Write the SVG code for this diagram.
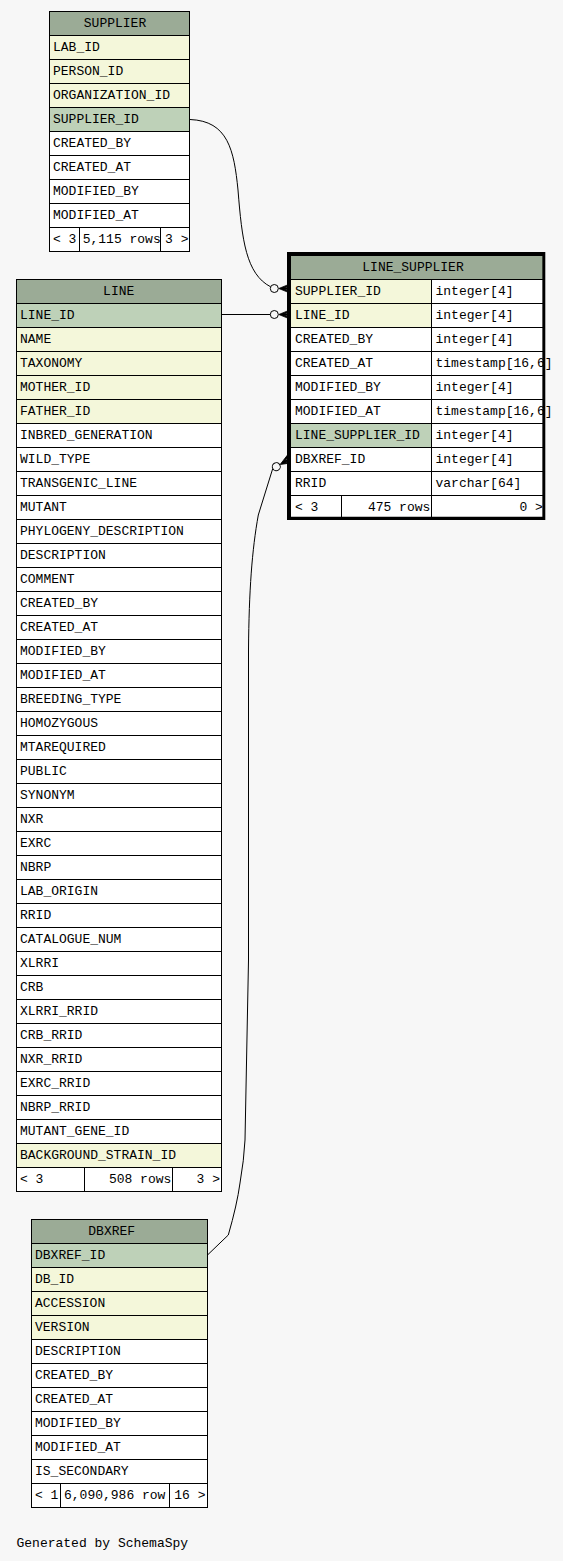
<svg xmlns="http://www.w3.org/2000/svg" xmlns:xlink="http://www.w3.org/1999/xlink" width="563" height="1561" viewBox="0 0 563 1561">
<style>
rect{stroke:#000;stroke-width:1}
.hd{fill:#9bab96}
.pk{fill:#bed1b8}
.fk{fill:#f4f7da}
.w{fill:#ffffff}
text{font-family:"Liberation Mono","DejaVu Sans Mono",monospace;font-size:13px;fill:#000}
.c{text-anchor:middle}
.e{text-anchor:end}
.ln{fill:none;stroke:#000;stroke-width:1}
</style>
<defs>
<g id="co">
<circle cx="0" cy="0" r="4" fill="none" stroke="#000" stroke-width="1"/>
<path d="M4.5,0 L15.8,-4.6 L15.8,-3 L10,-0.8 L15.8,-0.8 L15.8,0.8 L10,0.8 L15.8,3 L15.8,4.6 Z" fill="#000" stroke="#000" stroke-width="0.8"/>
</g>
</defs>
<rect x="0" y="0" width="563" height="1561" fill="#f7f7f7" style="stroke:none"/>

<g id="connectors">
<path class="ln" d="M190,119.5 C228,121 234,150 238,190 C242,240 246,274 270.6,286.8"/>
<use xlink:href="#co" href="#co" transform="translate(274.3,288.5)"/>
<path class="ln" d="M222,314.5 H270.3"/>
<use xlink:href="#co" href="#co" transform="translate(274.3,314.5)"/>
<path class="ln" d="M207.5,1255 L228.3,1235 Q237,1205 240,1183 Q244,1160 245,1140 L248.5,960 L248.5,650 C249,590 252,550 258.3,515 L272.6,469"/>
<use xlink:href="#co" href="#co" transform="translate(276.3,466.7) rotate(-30)"/>
</g>

<g id="SUPPLIER">
<rect class="hd" x="49.5" y="11.5" width="140" height="24"/><text class="c" x="115" y="26.5">SUPPLIER</text>
<rect class="fk" x="49.5" y="35.5" width="140" height="24"/><text x="53" y="51">LAB_ID</text>
<rect class="fk" x="49.5" y="59.5" width="140" height="24"/><text x="53" y="75">PERSON_ID</text>
<rect class="fk" x="49.5" y="83.5" width="140" height="24"/><text x="53" y="99">ORGANIZATION_ID</text>
<rect class="pk" x="49.5" y="107.5" width="140" height="24"/><text x="53" y="123">SUPPLIER_ID</text>
<rect class="w" x="49.5" y="131.5" width="140" height="24"/><text x="53" y="147">CREATED_BY</text>
<rect class="w" x="49.5" y="155.5" width="140" height="24"/><text x="53" y="171">CREATED_AT</text>
<rect class="w" x="49.5" y="179.5" width="140" height="24"/><text x="53" y="195">MODIFIED_BY</text>
<rect class="w" x="49.5" y="203.5" width="140" height="24"/><text x="53" y="219">MODIFIED_AT</text>
<rect class="w" x="49.5" y="227.5" width="30" height="24"/><text x="53" y="243">&lt; 3</text>
<rect class="w" x="79.5" y="227.5" width="81" height="24"/><text x="82.7" y="243">5,115 rows</text>
<rect class="w" x="160.5" y="227.5" width="29" height="24"/><text class="e" x="188.5" y="243">3 &gt;</text>
</g>

<g id="LINE">
<rect class="hd" x="16.5" y="279.5" width="205" height="24"/><text class="c" x="118.7" y="295">LINE</text>
<rect class="pk" x="16.5" y="303.5" width="205" height="24"/><text x="20" y="319">LINE_ID</text>
<rect class="fk" x="16.5" y="327.5" width="205" height="24"/><text x="20" y="343">NAME</text>
<rect class="fk" x="16.5" y="351.5" width="205" height="24"/><text x="20" y="367">TAXONOMY</text>
<rect class="fk" x="16.5" y="375.5" width="205" height="24"/><text x="20" y="391">MOTHER_ID</text>
<rect class="fk" x="16.5" y="399.5" width="205" height="24"/><text x="20" y="415">FATHER_ID</text>
<rect class="w" x="16.5" y="423.5" width="205" height="24"/><text x="20" y="439">INBRED_GENERATION</text>
<rect class="w" x="16.5" y="447.5" width="205" height="24"/><text x="20" y="463">WILD_TYPE</text>
<rect class="w" x="16.5" y="471.5" width="205" height="24"/><text x="20" y="487">TRANSGENIC_LINE</text>
<rect class="w" x="16.5" y="495.5" width="205" height="24"/><text x="20" y="511">MUTANT</text>
<rect class="w" x="16.5" y="519.5" width="205" height="24"/><text x="20" y="535">PHYLOGENY_DESCRIPTION</text>
<rect class="w" x="16.5" y="543.5" width="205" height="24"/><text x="20" y="559">DESCRIPTION</text>
<rect class="w" x="16.5" y="567.5" width="205" height="24"/><text x="20" y="583">COMMENT</text>
<rect class="w" x="16.5" y="591.5" width="205" height="24"/><text x="20" y="607">CREATED_BY</text>
<rect class="w" x="16.5" y="615.5" width="205" height="24"/><text x="20" y="631">CREATED_AT</text>
<rect class="w" x="16.5" y="639.5" width="205" height="24"/><text x="20" y="655">MODIFIED_BY</text>
<rect class="w" x="16.5" y="663.5" width="205" height="24"/><text x="20" y="679">MODIFIED_AT</text>
<rect class="w" x="16.5" y="687.5" width="205" height="24"/><text x="20" y="703">BREEDING_TYPE</text>
<rect class="w" x="16.5" y="711.5" width="205" height="24"/><text x="20" y="727">HOMOZYGOUS</text>
<rect class="w" x="16.5" y="735.5" width="205" height="24"/><text x="20" y="751">MTAREQUIRED</text>
<rect class="w" x="16.5" y="759.5" width="205" height="24"/><text x="20" y="775">PUBLIC</text>
<rect class="w" x="16.5" y="783.5" width="205" height="24"/><text x="20" y="799">SYNONYM</text>
<rect class="w" x="16.5" y="807.5" width="205" height="24"/><text x="20" y="823">NXR</text>
<rect class="w" x="16.5" y="831.5" width="205" height="24"/><text x="20" y="847">EXRC</text>
<rect class="w" x="16.5" y="855.5" width="205" height="24"/><text x="20" y="871">NBRP</text>
<rect class="w" x="16.5" y="879.5" width="205" height="24"/><text x="20" y="895">LAB_ORIGIN</text>
<rect class="w" x="16.5" y="903.5" width="205" height="24"/><text x="20" y="919">RRID</text>
<rect class="w" x="16.5" y="927.5" width="205" height="24"/><text x="20" y="943">CATALOGUE_NUM</text>
<rect class="w" x="16.5" y="951.5" width="205" height="24"/><text x="20" y="967">XLRRI</text>
<rect class="w" x="16.5" y="975.5" width="205" height="24"/><text x="20" y="991">CRB</text>
<rect class="w" x="16.5" y="999.5" width="205" height="24"/><text x="20" y="1015">XLRRI_RRID</text>
<rect class="w" x="16.5" y="1023.5" width="205" height="24"/><text x="20" y="1039">CRB_RRID</text>
<rect class="w" x="16.5" y="1047.5" width="205" height="24"/><text x="20" y="1063">NXR_RRID</text>
<rect class="w" x="16.5" y="1071.5" width="205" height="24"/><text x="20" y="1087">EXRC_RRID</text>
<rect class="w" x="16.5" y="1095.5" width="205" height="24"/><text x="20" y="1111">NBRP_RRID</text>
<rect class="w" x="16.5" y="1119.5" width="205" height="24"/><text x="20" y="1135">MUTANT_GENE_ID</text>
<rect class="fk" x="16.5" y="1143.5" width="205" height="24"/><text x="20" y="1159">BACKGROUND_STRAIN_ID</text>
<rect class="w" x="16.5" y="1167.5" width="68" height="24"/><text x="20" y="1183">&lt; 3</text>
<rect class="w" x="84.5" y="1167.5" width="88" height="24"/><text class="e" x="171.3" y="1183">508 rows</text>
<rect class="w" x="172.5" y="1167.5" width="49" height="24"/><text class="e" x="220" y="1183">3 &gt;</text>
</g>

<g id="DBXREF">
<rect class="hd" x="31.5" y="1219.5" width="176" height="24"/><text class="c" x="111.7" y="1235">DBXREF</text>
<rect class="pk" x="31.5" y="1243.5" width="176" height="24"/><text x="35" y="1259">DBXREF_ID</text>
<rect class="fk" x="31.5" y="1267.5" width="176" height="24"/><text x="35" y="1283">DB_ID</text>
<rect class="fk" x="31.5" y="1291.5" width="176" height="24"/><text x="35" y="1307">ACCESSION</text>
<rect class="fk" x="31.5" y="1315.5" width="176" height="24"/><text x="35" y="1331">VERSION</text>
<rect class="w" x="31.5" y="1339.5" width="176" height="24"/><text x="35" y="1355">DESCRIPTION</text>
<rect class="w" x="31.5" y="1363.5" width="176" height="24"/><text x="35" y="1379">CREATED_BY</text>
<rect class="w" x="31.5" y="1387.5" width="176" height="24"/><text x="35" y="1403">CREATED_AT</text>
<rect class="w" x="31.5" y="1411.5" width="176" height="24"/><text x="35" y="1427">MODIFIED_BY</text>
<rect class="w" x="31.5" y="1435.5" width="176" height="24"/><text x="35" y="1451">MODIFIED_AT</text>
<rect class="w" x="31.5" y="1459.5" width="176" height="24"/><text x="35" y="1475">IS_SECONDARY</text>
<rect class="w" x="31.5" y="1483.5" width="29" height="24"/><text x="35" y="1499">&lt; 1</text>
<rect class="w" x="60.5" y="1483.5" width="109" height="24"/><text x="64" y="1499">6,090,986 row</text>
<rect class="w" x="169.5" y="1483.5" width="38" height="24"/><text class="e" x="205.5" y="1499">16 &gt;</text>
</g>

<g id="LINE_SUPPLIER">
<rect class="hd" x="290.5" y="255.5" width="252.5" height="24"/><text class="c" x="413" y="271">LINE_SUPPLIER</text>
<rect class="fk" x="290.5" y="279.5" width="141" height="24"/><rect class="w" x="431.5" y="279.5" width="111.5" height="24"/>
<text x="295" y="295">SUPPLIER_ID</text><text x="435.5" y="295">integer[4]</text>
<rect class="fk" x="290.5" y="303.5" width="141" height="24"/><rect class="w" x="431.5" y="303.5" width="111.5" height="24"/>
<text x="295" y="319">LINE_ID</text><text x="435.5" y="319">integer[4]</text>
<rect class="w" x="290.5" y="327.5" width="141" height="24"/><rect class="w" x="431.5" y="327.5" width="111.5" height="24"/>
<text x="295" y="343">CREATED_BY</text><text x="435.5" y="343">integer[4]</text>
<rect class="w" x="290.5" y="351.5" width="141" height="24"/><rect class="w" x="431.5" y="351.5" width="111.5" height="24"/>
<text x="295" y="367">CREATED_AT</text><text x="435.5" y="367">timestamp[16,6]</text>
<rect class="w" x="290.5" y="375.5" width="141" height="24"/><rect class="w" x="431.5" y="375.5" width="111.5" height="24"/>
<text x="295" y="391">MODIFIED_BY</text><text x="435.5" y="391">integer[4]</text>
<rect class="w" x="290.5" y="399.5" width="141" height="24"/><rect class="w" x="431.5" y="399.5" width="111.5" height="24"/>
<text x="295" y="415">MODIFIED_AT</text><text x="435.5" y="415">timestamp[16,6]</text>
<rect class="pk" x="290.5" y="423.5" width="141" height="24"/><rect class="w" x="431.5" y="423.5" width="111.5" height="24"/>
<text x="295" y="439">LINE_SUPPLIER_ID</text><text x="435.5" y="439">integer[4]</text>
<rect class="w" x="290.5" y="447.5" width="141" height="24"/><rect class="w" x="431.5" y="447.5" width="111.5" height="24"/>
<text x="295" y="463">DBXREF_ID</text><text x="435.5" y="463">integer[4]</text>
<rect class="w" x="290.5" y="471.5" width="141" height="24"/><rect class="w" x="431.5" y="471.5" width="111.5" height="24"/>
<text x="295" y="487">RRID</text><text x="435.5" y="487">varchar[64]</text>
<rect class="w" x="290.5" y="495.5" width="51" height="22"/><text x="295" y="511">&lt; 3</text>
<rect class="w" x="341.5" y="495.5" width="90" height="22"/><text class="e" x="430.3" y="511">475 rows</text>
<rect class="w" x="431.5" y="495.5" width="111.5" height="22"/><text class="e" x="542.8" y="511">0 &gt;</text>
<path d="M287,252 H545.3 V520 H287 Z M290.7,255.7 V516.7 H542.7 V255.7 Z" fill="#000" fill-rule="evenodd"/>
</g>

<text x="16.5" y="1546.5">Generated by SchemaSpy</text>
</svg>
